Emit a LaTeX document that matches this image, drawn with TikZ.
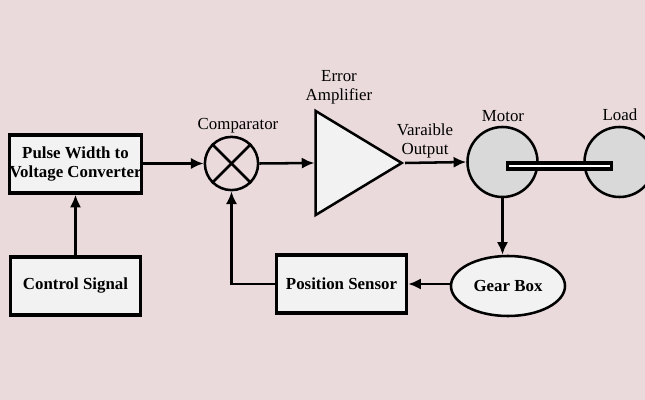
\documentclass[tikz,border=0pt]{standalone}
\usepackage{fontspec}
\setmainfont{Liberation Serif}
\usetikzlibrary{arrows.meta,shapes.geometric}

\definecolor{bgpink}{RGB}{234,218,219}
\definecolor{boxfill}{RGB}{242,242,242}
\definecolor{discfill}{RGB}{217,217,217}

\begin{document}
\begin{tikzpicture}[
    x=0.025cm, y=-0.025cm,
    blk/.style={draw, line width=2.4pt, fill=boxfill, minimum width=3.25cm, minimum height=1.45cm, font=\fontsize{12}{13.5}\selectfont\bfseries, align=center, inner sep=0pt},
    disc/.style={draw, circle, line width=1.8pt, fill=discfill, minimum size=1.75cm, inner sep=0pt},
    arr/.style={-{Latex[length=9pt,width=8pt]}, line width=1.8pt},
    lbl/.style={font=\fontsize{12}{13.5}\selectfont, align=center},
  ]
    % page with the background colour
    \useasboundingbox[fill=bgpink] (0,0) rectangle (645,400);

    % === Input side ===
    \node[blk] (pwm) at (75.5,164) {Pulse Width to\\Voltage Converter};
    \node[blk] (ctrl) at (75.5,286) {Control Signal};
    \draw[arr] (ctrl.north) -- (pwm.south);

    % Comparator (circle with a cross)
    \node[draw, circle, line width=1.8pt, minimum size=1.33cm, inner sep=0pt] (comp) at (231.5,163.5) {};
    \draw[line width=1.8pt] (comp.north east) -- (comp.south west);
    \draw[line width=1.8pt] (comp.north west) -- (comp.south east);
    \node[lbl] (complbl) at (238,126) {Comparator};
    \draw[arr] (pwm.east |- comp.west) -- (comp.west);

    % === Error amplifier ===
    \node[draw, isosceles triangle, isosceles triangle stretches, shape border rotate=0,
          line width=1.8pt, fill=boxfill, minimum width=2.6cm, minimum height=2.15cm,
          inner sep=0pt, anchor=apex] (amp) at (405,163) {};
    \node[lbl] (amplbl) at (339,87) {Error\\Amplifier};
    \draw[arr] (comp.east) -- (amp.west);

    % === Motor and load ===
    \node[disc] (motor) at (502.5,162) {};
    \node[disc] (load) at (619.5,162) {};
    \node[draw, line width=2.2pt, fill=white, minimum width=2.6cm, minimum height=0.15cm, inner sep=0pt] (shaft) at (559.5,166) {};
    \node[lbl] (motorlbl) at (503,116) {Motor};
    \node[lbl] (loadlbl) at (620,115) {Load};
    \node[lbl] (outlbl) at (425,141) {Varaible\\Output};
    \draw[arr] (amp.apex) -- (motor.west);

    % === Feedback path ===
    \node[draw, ellipse, line width=1.8pt, fill=boxfill, minimum width=2.85cm, minimum height=1.5cm,
          font=\fontsize{12}{13.5}\selectfont\bfseries, inner sep=0pt] (gear) at (508,286) {Gear Box};
    \node[blk] (sensor) at (341.5,284) {Position Sensor};
    \draw[arr] (motor.south) -- (motor.south |- gear.north);
    \draw[arr] (gear.west |- sensor.east) -- (sensor.east);
    \draw[arr] (sensor.west) -| (comp.south);
  \end{tikzpicture}
\end{document}
